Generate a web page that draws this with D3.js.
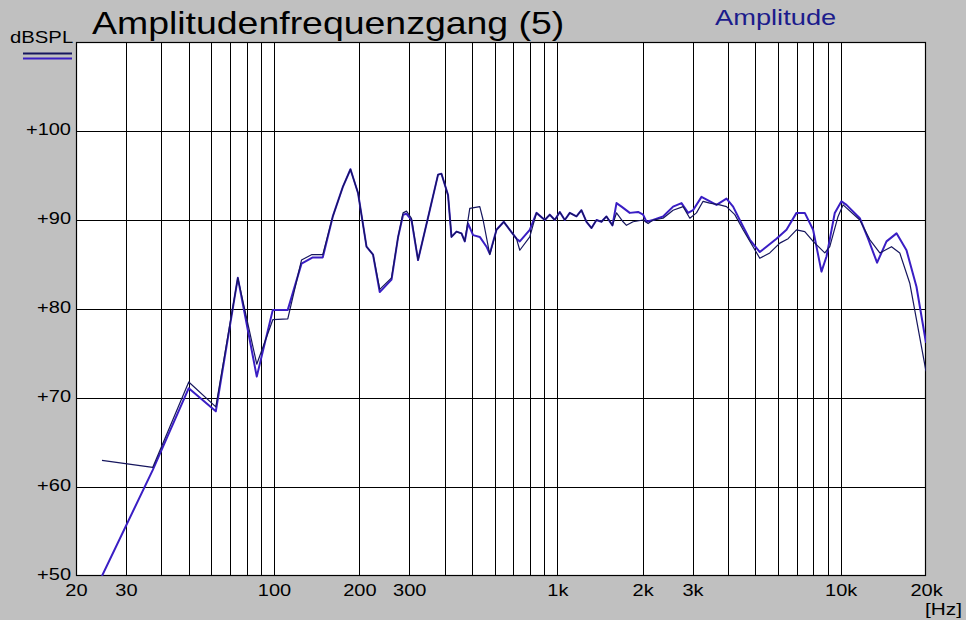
<!DOCTYPE html>
<html>
<head>
<meta charset="utf-8">
<script src="https://cdn.jsdelivr.net/npm/d3@7/dist/d3.min.js"></script>
<style>
  html, body { margin: 0; padding: 0; background: #c0c0c0; }
  svg { display: block; }
  text { font-family: "Liberation Sans", Arial, sans-serif; }
</style>
</head>
<body>
<svg id="chart" width="966" height="620"></svg>
<script>
// ---- data ----
const gridFreqs = [30,40,50,60,70,80,90,100,200,300,400,500,600,700,800,900,1000,2000,3000,4000,5000,6000,7000,8000,9000,10000];
const gridLevels = [60,70,80,90,100];
const xTickValues = [20,30,100,200,300,1000,2000,3000,10000,20000];
const xTickLabels = ["20","30","100","200","300","1k","2k","3k","10k","20k"];
const yTickValues = [50,60,70,80,90,100];
const yTickLabels = ["+50","+60","+70","+80","+90","+100"];

// Curve 1 (purple)
const freqA = [24.7,37.3,50,62.3,74.5,86.9,99,111.8,125,137,148.6,161.2,174.8,186.1,198,212,223.6,236.1,259.8,274.1,285.4,293.4,305.5,322.3,354.5,379.2,389.8,411.3,422.9,440.5,458.7,471.2,484,504.1,532.3,562.2,577.4,609.8,647,679.2,717.2,736.8,799,843.9,902.7,940,979,1020,1062,1106,1168,1216,1267,1320,1374,1431,1490,1565,1617,1684,1801,1927,2007,2063,2176,2361,2561,2742,2893,3012,3226,3403,3644,3953,4171,4466,4776,5181,5470,5933,6436,6981,7468,7991,8553,8910,9530,10060,10480,11680,12490,13440,14510,15740,17070,18510,20000];
const dbA = [50.0,61.9,71.1,68.5,83.5,72.4,79.9,79.9,85.1,85.8,85.8,90.4,93.7,95.7,93.0,87.0,86.1,81.9,83.3,88.1,90.6,90.7,90.0,85.5,91.1,95.1,95.2,92.8,88.1,88.7,88.5,87.6,89.6,88.3,88.1,87.0,86.2,88.9,89.8,88.9,87.9,87.6,88.9,90.8,90.0,90.6,90.0,90.9,90.0,90.8,90.4,91.1,89.8,89.1,90.0,89.8,90.4,89.4,91.9,91.5,90.8,90.9,90.6,89.8,90.0,90.4,91.5,91.9,90.8,91.1,92.6,92.2,91.7,92.4,91.5,89.6,87.8,86.4,87.0,87.9,88.9,90.8,90.8,88.9,84.2,85.9,90.8,92.1,91.7,90.2,87.9,85.2,87.6,88.5,86.6,82.5,76.2];

// Curve 2 (navy)
const freqB = [24.7,37.3,50,62.3,74.5,86.9,99,111.8,125,135.6,148.6,161.2,174.8,186.1,198,212,223.6,236.1,259.8,274.1,285.4,293.4,305.5,322.3,354.5,379.2,389.8,411.3,422.9,440.5,458.7,471.2,490.7,532.3,546.9,577.4,609.8,647,679.2,717.2,736.8,799,843.9,902.7,940,979,1020,1062,1106,1168,1216,1267,1320,1374,1431,1490,1565,1617,1706,1753,1850,2007,2090,2176,2361,2561,2778,2934,3097,3268,3451,3743,3953,4229,4523,4905,5181,5619,6095,6521,6981,7468,7991,8787,9150,9788,10195,11680,12660,13740,15110,16160,17530,20000];
const dbB = [63.0,62.2,71.8,69.0,83.5,73.8,78.8,78.9,85.5,86.1,86.1,90.4,93.7,95.7,93.0,87.0,86.1,82.2,83.5,88.1,90.8,91.0,90.2,85.5,91.1,95.1,95.2,92.8,88.1,88.7,88.5,87.6,91.3,91.5,90.0,86.1,88.9,89.8,88.9,87.9,86.6,88.1,90.8,90.0,90.6,90.0,90.9,90.0,90.8,90.4,91.1,89.8,89.1,90.0,89.8,90.4,89.4,90.8,89.8,89.4,89.8,90.0,89.6,90.0,90.2,91.1,91.5,90.2,90.8,92.1,91.9,91.7,91.5,90.6,88.9,87.0,85.7,86.3,87.4,87.9,88.9,88.7,87.6,86.3,87.0,90.4,91.7,90.0,87.8,86.3,87.0,86.3,82.9,73.0];

// ---- layout ----
const L = 76, R = 926, T = 42, B = 576;
const svg = d3.select("#chart");
const x = d3.scaleLog().domain([20, 20000]).range([L, R]);
const y = d3.scaleLinear().domain([50, 110]).range([B, T]);
const FONT = "'Liberation Sans', Arial, sans-serif";

// plot area white
svg.append("rect").attr("x", L).attr("y", T).attr("width", R - L).attr("height", B - T)
  .attr("fill", "#ffffff");

// vertical grid
svg.append("g").attr("transform", `translate(0,${B})`)
  .call(d3.axisBottom(x).tickValues(gridFreqs).tickSize(-(B - T)).tickFormat(""))
  .call(g => g.select(".domain").remove())
  .call(g => g.selectAll("line").attr("stroke", "#000").attr("stroke-width", 1).attr("shape-rendering", "crispEdges"));

// horizontal grid
svg.append("g").attr("transform", `translate(${L},0)`)
  .call(d3.axisLeft(y).tickValues(gridLevels).tickSize(-(R - L)).tickFormat(""))
  .call(g => g.select(".domain").remove())
  .call(g => g.selectAll("line").attr("stroke", "#000").attr("stroke-width", 1).attr("shape-rendering", "crispEdges"));

// frame
svg.append("rect").attr("x", L + 0.5).attr("y", T + 0.5).attr("width", R - L - 1).attr("height", B - T - 1)
  .attr("fill", "none").attr("stroke", "#000").attr("stroke-width", 1.2);

// x tick labels (horizontally stretched text like the reference)
svg.append("g").attr("transform", `translate(0,${B})`)
  .call(d3.axisBottom(x).tickValues(xTickValues).tickSize(0).tickPadding(0)
    .tickFormat((d, i) => xTickLabels[i]))
  .call(g => g.select(".domain").remove())
  .call(g => g.selectAll("text").attr("dy", null).attr("y", 20).attr("x", 0)
    .attr("transform", "scale(1.25,1)")
    .attr("font-size", 16).attr("fill", "#000").attr("font-family", FONT));

// y tick labels
svg.append("g").attr("transform", `translate(${L - 5},0)`)
  .call(d3.axisLeft(y).tickValues(yTickValues).tickSize(0).tickPadding(0)
    .tickFormat((d, i) => yTickLabels[i]))
  .call(g => g.select(".domain").remove())
  .call(g => g.selectAll("text").attr("dy", null).attr("y", 3).attr("x", 0)
    .attr("transform", "scale(1.25,1)")
    .attr("font-size", 16).attr("fill", "#000").attr("font-family", FONT));

// curves
svg.append("clipPath").attr("id", "plotclip").append("rect")
  .attr("x", L).attr("y", T).attr("width", R - L).attr("height", B - T);
const line = d3.line().x(d => x(d[0])).y(d => y(d[1]));
const dataA = freqA.map((f, i) => [f, dbA[i]]);
const dataB = freqB.map((f, i) => [f, dbB[i]]);
const gCurves = svg.append("g").attr("clip-path", "url(#plotclip)");
gCurves.append("path").datum(dataA).attr("d", line)
  .attr("fill", "none").attr("stroke", "#3a1ec4").attr("stroke-width", 2).attr("stroke-linejoin", "round");
gCurves.append("path").datum(dataB).attr("d", line)
  .attr("fill", "none").attr("stroke", "#16165e").attr("stroke-width", 1.2).attr("stroke-linejoin", "round");

// stretched text helper
function stretchedText(tx, ty, sx, size, color, anchor, str) {
  svg.append("text")
    .attr("transform", `translate(${tx},${ty}) scale(${sx},1)`)
    .attr("font-size", size).attr("fill", color).attr("font-family", FONT)
    .attr("text-anchor", anchor).text(str);
}
stretchedText(92, 34, 1.17, 32, "#000", "start", "Amplitudenfrequenzgang (5)");
stretchedText(715, 25, 1.24, 22, "#1c1c8c", "start", "Amplitude");
stretchedText(10, 43, 1.27, 16, "#000", "start", "dBSPL");
stretchedText(962, 615, 1.3, 16, "#000", "end", "[Hz]");

// legend lines
svg.append("line").attr("x1", 23).attr("x2", 72).attr("y1", 53.5).attr("y2", 53.5)
  .attr("stroke", "#16165e").attr("stroke-width", 2);
svg.append("line").attr("x1", 23).attr("x2", 72).attr("y1", 58.5).attr("y2", 58.5)
  .attr("stroke", "#3a1ec4").attr("stroke-width", 2);
</script>
</body>
</html>
